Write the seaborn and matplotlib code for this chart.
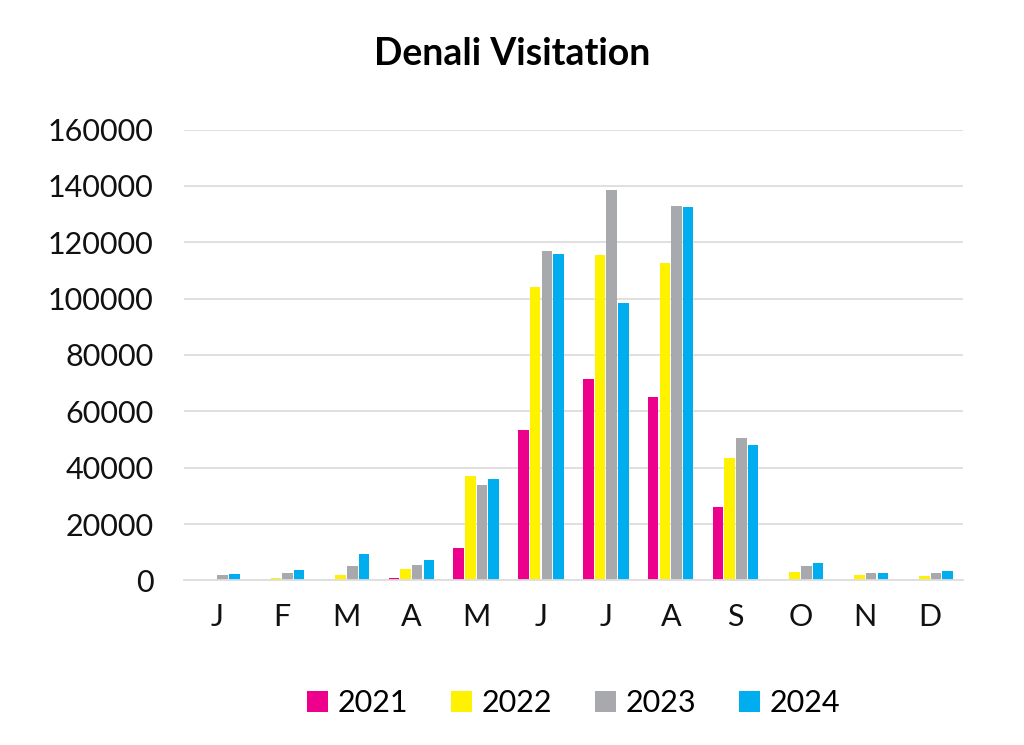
import matplotlib
matplotlib.use("Agg")
import matplotlib.pyplot as plt
import seaborn as sns
import pandas as pd

months = ["J", "F", "M", "A", "M", "J", "J", "A", "S", "O", "N", "D"]
years = ["2021", "2022", "2023", "2024"]
v2021 = [0, 0, 0, 1000, 11500, 53500, 71500, 65000, 26000, 0, 0, 0]
v2022 = [300, 1000, 2000, 4000, 37000, 104000, 115500, 112500, 43500, 2900, 1900, 1700]
v2023 = [1800, 2500, 5200, 5600, 34000, 117000, 138500, 133000, 50500, 5000, 2500, 2500]
v2024 = [2300, 3800, 9500, 7300, 36000, 116000, 98500, 132500, 48000, 6200, 2500, 3300]
colors = ["#ec008c", "#fff200", "#a7a9ac", "#00aeef"]

rows = []
for y, vals in zip(years, [v2021, v2022, v2023, v2024]):
    for i, v in enumerate(vals):
        rows.append({"idx": i, "year": y, "value": v})
df = pd.DataFrame(rows)

plt.rcParams["font.family"] = "Lato"
fig, ax = plt.subplots(figsize=(10.24, 7.45), dpi=100)
fig.subplots_adjust(left=0.18, right=0.94, top=0.826, bottom=0.221)
sns.barplot(data=df, x="idx", y="value", hue="year", palette=colors,
            width=0.72, gap=0.1, ax=ax, saturation=1)
ax.set_ylim(0, 160000)
ax.set_yticks(range(0, 160001, 20000))
ax.set_xticks(range(12))
ax.set_xticklabels(months)
ax.tick_params(axis="both", labelsize=22, length=0, colors="#111111")
ax.tick_params(axis="x", pad=16)
ax.tick_params(axis="y", pad=22)
ax.yaxis.grid(True, color="#dddddd", linewidth=1.3)
ax.set_axisbelow(True)
for s in ["top", "right", "left"]:
    ax.spines[s].set_visible(False)
ax.spines["bottom"].set_color("#dddddd")
ax.spines["bottom"].set_linewidth(1.3)
ax.set_xlabel("")
ax.set_ylabel("")
fig.suptitle("Denali Visitation", x=0.5, y=0.95, fontsize=27, fontweight="bold")
ax.legend(loc="upper center", bbox_to_anchor=(0.5, -0.18), ncol=4, frameon=False,
          fontsize=22, handlelength=0.7, handleheight=0.7, handletextpad=0.3, columnspacing=1.4)
fig.savefig("out.png", dpi=100)
